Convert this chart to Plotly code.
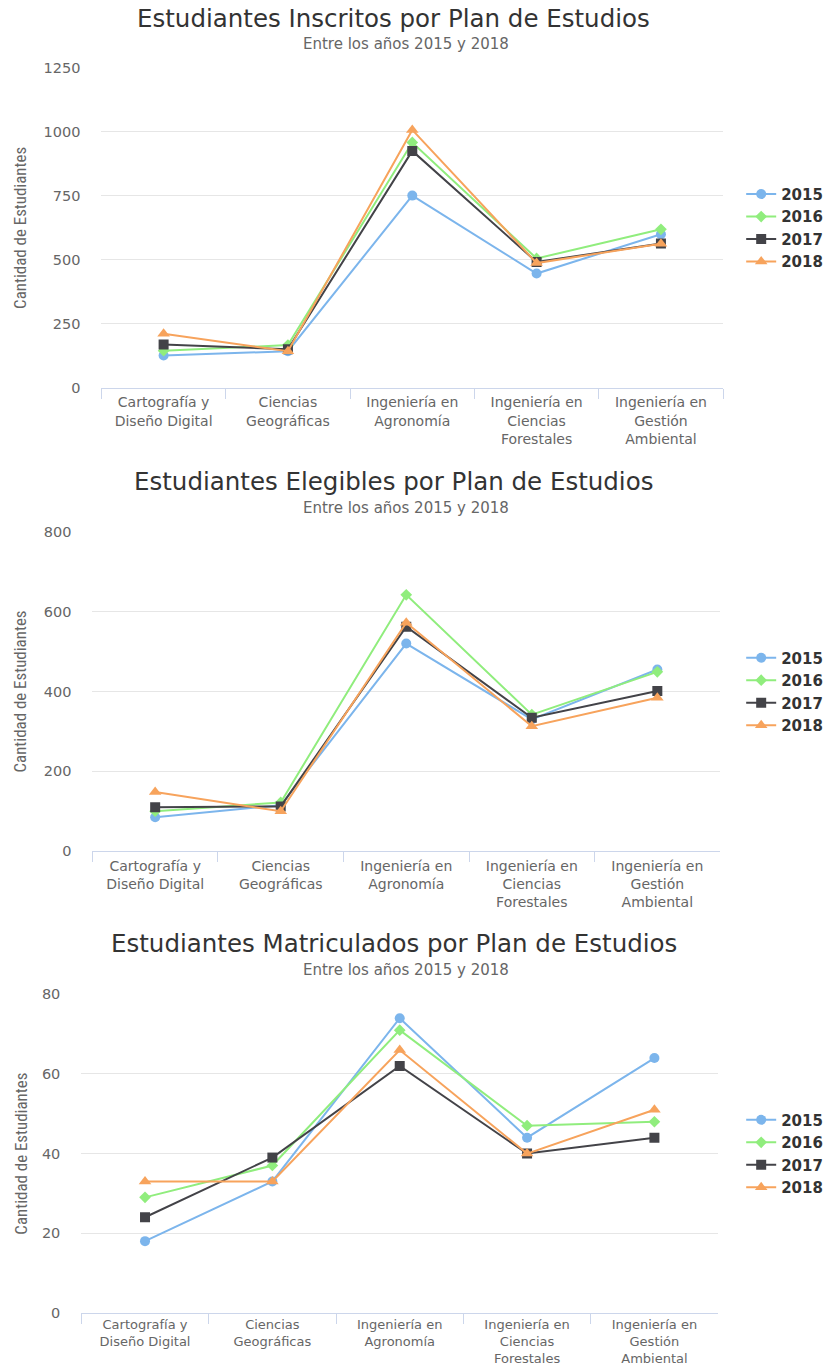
import plotly.graph_objects as go

# Calibration of the capture: seen_x = SX * fig_x ; seen_y = OFF_Y + SY * fig_y
OFF_Y = 8
SX, SY = 0.9957, 0.987
W, H = 832, 1375

categories = ["Cartografía y Diseño Digital", "Ciencias Geográficas", "Ingeniería en Agronomía",
              "Ingeniería en Ciencias Forestales", "Ingeniería en Gestión Ambiental"]
tick_labels = ["Cartografía y<br>Diseño Digital", "Ciencias<br>Geográficas", "Ingeniería en<br>Agronomía",
               "Ingeniería en<br>Ciencias<br>Forestales", "Ingeniería en<br>Gestión<br>Ambiental"]
years = ["2015", "2016", "2017", "2018"]

# Chart 1: Inscritos
inscritos_2015 = [125, 142, 751, 446, 600]
inscritos_2016 = [144, 166, 959, 505, 619]
inscritos_2017 = [168, 150, 926, 491, 564]
inscritos_2018 = [210, 142, 1008, 487, 563]

# Chart 2: Elegibles
elegibles_2015 = [85, 115, 520, 330, 455]
elegibles_2016 = [100, 122, 642, 342, 449]
elegibles_2017 = [110, 112, 562, 334, 401]
elegibles_2018 = [148, 100, 572, 313, 384]

# Chart 3: Matriculados
matriculados_2015 = [18, 33, 74, 44, 64]
matriculados_2016 = [29, 37, 71, 47, 48]
matriculados_2017 = [24, 39, 62, 40, 44]
matriculados_2018 = [33, 33, 66, 40, 51]

titles = ["Estudiantes Inscritos por Plan de Estudios",
          "Estudiantes Elegibles por Plan de Estudios",
          "Estudiantes Matriculados por Plan de Estudios"]
subtitle = "Entre los años 2015 y 2018"
y_title = "Cantidad de Estudiantes"

y_ticks = [[0, 250, 500, 750, 1000, 1250], [0, 200, 400, 600, 800], [0, 20, 40, 60, 80]]

series = [
    [inscritos_2015, inscritos_2016, inscritos_2017, inscritos_2018],
    [elegibles_2015, elegibles_2016, elegibles_2017, elegibles_2018],
    [matriculados_2015, matriculados_2016, matriculados_2017, matriculados_2018],
]

colors = ["#7cb5ec", "#90ed7d", "#434348", "#f7a35c"]
symbols = ["circle", "diamond", "square", "triangle-up"]
msizes = [10, 9, 10, 11]

# target geometry in picture pixels
plots = [
    dict(left=101, right=720, top=68, bottom=387, title_y=18, sub_y=44, xfont=14, xstand=2),
    dict(left=92, right=717, top=531, bottom=850, title_y=481, sub_y=507, xfont=14, xstand=2),
    dict(left=81, right=715, top=993, bottom=1311, title_y=942, sub_y=969, xfont=13, xstand=0),
]


def fx(px):
    return (px / SX) / W


def fy(py):
    return 1 - ((py - OFF_Y) / SY) / H


FONT = "DejaVu Sans"
fig = go.Figure()
layout = dict(
    width=W, height=H, margin=dict(l=0, r=0, t=0, b=0),
    paper_bgcolor="white", plot_bgcolor="white",
    font=dict(family=FONT, color="#666666"),
    annotations=[],
)

for k in range(3):
    p = plots[k]
    xa = "x" if k == 0 else f"x{k+1}"
    ya = "y" if k == 0 else f"y{k+1}"
    lg = "legend" if k == 0 else f"legend{k+1}"
    for i, yr in enumerate(years):
        fig.add_trace(go.Scatter(
            x=categories, y=series[k][i], name=yr, mode="lines+markers",
            line=dict(color=colors[i], width=2),
            marker=dict(symbol=symbols[i], size=msizes[i], color=colors[i]),
            xaxis=xa, yaxis=ya, legend=lg,
        ))
    xkey = "xaxis" if k == 0 else f"xaxis{k+1}"
    ykey = "yaxis" if k == 0 else f"yaxis{k+1}"
    layout[xkey] = dict(
        domain=[fx(p["left"]), fx(p["right"])], anchor=ya,
        type="category", categoryorder="array", categoryarray=categories,
        range=[-0.5, 4.5], tickvals=categories, ticktext=tick_labels,
        showline=True, linecolor="#ccd6eb", linewidth=1,
        ticks="outside", tickson="boundaries", ticklen=10, tickcolor="#ccd6eb",
        ticklabelstandoff=p["xstand"],
        showgrid=False, zeroline=False,
        tickfont=dict(family=FONT, size=p["xfont"], color="#666666"),
    )
    layout[ykey] = dict(
        domain=[fy(p["bottom"]), fy(p["top"])], anchor=xa,
        range=[0, y_ticks[k][-1]], tickvals=y_ticks[k],
        showgrid=True, gridcolor="#e6e6e6", gridwidth=1, zeroline=False,
        showline=False, ticks="", ticklabelstandoff=20,
        tickfont=dict(family=FONT, size=14.5, color="#666666"),
    )
    layout[lg] = dict(
        x=fx(738), y=fy((p["top"] + p["bottom"]) / 2), xanchor="left", yanchor="middle",
        bgcolor="rgba(0,0,0,0)", tracegroupgap=0, itemwidth=30,
        font=dict(family=FONT, size=15, color="#333333", weight="bold"),
    )
    layout["annotations"] += [
        dict(text=titles[k], x=fx(392), y=fy(p["title_y"]), xref="paper", yref="paper",
             xanchor="center", yanchor="middle", showarrow=False,
             font=dict(family=FONT, size=24.5, color="#333333")),
        dict(text=subtitle, x=fx(404), y=fy(p["sub_y"]), xref="paper", yref="paper",
             xanchor="center", yanchor="middle", showarrow=False,
             font=dict(family=FONT, size=15, color="#666666")),
        dict(text=y_title, x=fx(20), y=fy((p["top"] + p["bottom"]) / 2), xref="paper", yref="paper",
             xanchor="center", yanchor="middle", showarrow=False, textangle=-90,
             font=dict(family="Liberation Sans Narrow, Roboto Condensed, Roboto, sans-serif",
                       size=16.9, color="#666666")),
    ]

fig.update_layout(**layout)
fig.write_html("out.html", config={"displayModeBar": False},
               post_script="document.body.style.margin='0px';")
